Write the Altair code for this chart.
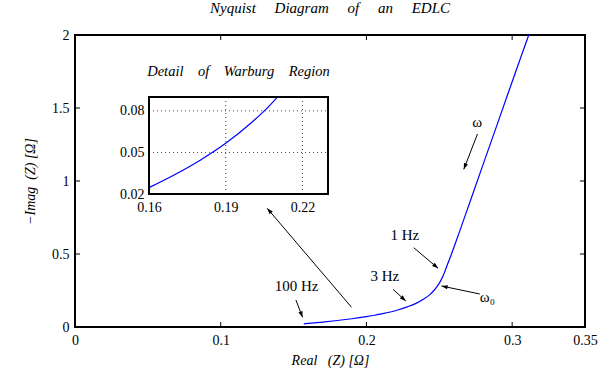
import math
import altair as alt
import pandas as pd

# ---------------- data ----------------
curve_re = [0.157, 0.160, 0.170, 0.180, 0.190, 0.200, 0.2055, 0.2105, 0.2165,
            0.222, 0.228, 0.234, 0.2394, 0.2435, 0.2463, 0.2490, 0.2509, 0.2530, 0.2555,
            0.2580, 0.2600, 0.2642, 0.2720, 0.2802, 0.2880, 0.2959, 0.3040, 0.3114]
curve_im = [0.021, 0.0246, 0.0339, 0.0444, 0.0566, 0.0714, 0.0807, 0.0905, 0.103,
            0.118, 0.138, 0.162, 0.192, 0.222, 0.250, 0.285, 0.316, 0.360, 0.425,
            0.490, 0.545, 0.662, 0.884, 1.117, 1.338, 1.563, 1.793, 2.000]

x_domain = [0, 0.35]
y_domain = [0, 2]
x_ticks = [0, 0.1, 0.2, 0.3, 0.35]
y_ticks = [0, 0.5, 1, 1.5, 2]
inner_x_ticks = [0.1, 0.2, 0.3]
inner_y_ticks = [0.5, 1, 1.5]

inset_x_domain = [0.16, 0.23]
inset_y_domain = [0.02, 0.09]
inset_x_ticks = [0.16, 0.19, 0.22]
inset_y_ticks = [0.02, 0.05, 0.08]
inset_grid_x = [0.19, 0.22]
inset_grid_y = [0.05, 0.08]

ann_text = ["\u03c9", "1 Hz", "3 Hz", "100 Hz", "\u03c9\u2080"]
ann_re = [0.2760, 0.2263, 0.2126, 0.1521, 0.2830]
ann_im = [1.406, 0.630, 0.349, 0.281, 0.205]

arr_re0 = [0.2762, 0.2325, 0.2183, 0.1516, 0.2778, 0.1898]
arr_im0 = [1.322, 0.543, 0.258, 0.185, 0.226, 0.135]
arr_re1 = [0.2668, 0.2492, 0.2270, 0.1562, 0.2515, 0.1319]
arr_im1 = [1.080, 0.402, 0.178, 0.066, 0.281, 0.813]

# ---------------- layout ----------------
W, H = 510, 292
INSET_X_RANGE = [74, 253]
INSET_Y_RANGE = [159, 62]
FONT = "Liberation Serif"
NB = "\u00a0"

xs = alt.Scale(domain=x_domain, nice=False, zero=False)
ys = alt.Scale(domain=y_domain, nice=False, zero=False)
ixs = alt.Scale(domain=inset_x_domain, range=INSET_X_RANGE, nice=False, zero=False)
iys = alt.Scale(domain=inset_y_domain, range=INSET_Y_RANGE, nice=False, zero=False)

AX_X = alt.Axis(values=x_ticks, format="~g", ticks=False, domain=False, grid=False,
                labelFlush=False, labelPadding=6,
                title="Real" + NB * 3 + "(Z)" + NB + "[\u03a9]", titleFontStyle="italic",
                titlePadding=6)
AX_Y = alt.Axis(values=y_ticks, format="~g", ticks=False, domain=False, grid=False,
                labelPadding=6,
                title="\u2212Imag" + NB * 2 + "(Z)" + NB + "[\u03a9]", titleFontStyle="italic",
                titlePadding=14)
AX_IX = alt.Axis(values=inset_x_ticks, format=".2f", orient="bottom", offset=INSET_Y_RANGE[0] - H,
                 ticks=False, domain=False, grid=False, labelFlush=False, labelPadding=6, title=None)
AX_IY = alt.Axis(values=inset_y_ticks, format=".2f", orient="left", offset=-INSET_X_RANGE[0],
                 ticks=False, domain=False, grid=False, labelPadding=5, title=None)

curve = pd.DataFrame({"re": curve_re, "im": curve_im})
ann = pd.DataFrame({"t": ann_text, "re": ann_re, "im": ann_im})

kx = W / (x_domain[1] - x_domain[0])
ky = H / (y_domain[1] - y_domain[0])
angles = []
for a, b, c, d in zip(arr_re0, arr_im0, arr_re1, arr_im1):
    dx = (c - a) * kx
    dy = -(d - b) * ky
    angles.append(math.degrees(math.atan2(dx, -dy)) % 360)
arrows = pd.DataFrame({"x0": arr_re0, "y0": arr_im0, "x1": arr_re1, "y1": arr_im1, "ang": angles})

main_line = alt.Chart(curve).mark_line(color="#0000ff", strokeWidth=1.2, interpolate="monotone").encode(
    x=alt.X("re:Q", scale=xs, axis=AX_X),
    y=alt.Y("im:Q", scale=ys, axis=AX_Y),
    order="re:Q",
)

tb = pd.DataFrame({"t": inner_x_ticks})
ty = pd.DataFrame({"t": inner_y_ticks})
tick_bottom = alt.Chart(tb).mark_rule(color="black", strokeWidth=1).encode(
    x=alt.X("t:Q", scale=xs, axis=AX_X), y=alt.value(H), y2=alt.value(H - 5))
tick_top = alt.Chart(tb).mark_rule(color="black", strokeWidth=1).encode(
    x=alt.X("t:Q", scale=xs, axis=AX_X), y=alt.value(0), y2=alt.value(5))
tick_left = alt.Chart(ty).mark_rule(color="black", strokeWidth=1).encode(
    y=alt.Y("t:Q", scale=ys, axis=AX_Y), x=alt.value(0), x2=alt.value(5))
tick_right = alt.Chart(ty).mark_rule(color="black", strokeWidth=1).encode(
    y=alt.Y("t:Q", scale=ys, axis=AX_Y), x=alt.value(W), x2=alt.value(W - 5))

ann_text_mark = alt.Chart(ann).mark_text(font=FONT, fontSize=15, color="black").encode(
    x=alt.X("re:Q", scale=xs, axis=AX_X), y=alt.Y("im:Q", scale=ys, axis=AX_Y), text="t:N")

arrow_lines = alt.Chart(arrows).mark_rule(color="black", strokeWidth=1).encode(
    x=alt.X("x0:Q", scale=xs, axis=AX_X), y=alt.Y("y0:Q", scale=ys, axis=AX_Y),
    x2="x1:Q", y2="y1:Q")
arrow_heads = alt.Chart(arrows).mark_point(
    shape="M0,0L-0.35,1L0.35,1Z", filled=True, color="black", opacity=1, size=150
).encode(
    x=alt.X("x1:Q", scale=xs, axis=AX_X), y=alt.Y("y1:Q", scale=ys, axis=AX_Y),
    angle=alt.Angle("ang:Q", scale=None))

main_layer = alt.layer(main_line, tick_bottom, tick_top, tick_left, tick_right,
                       arrow_lines, arrow_heads, ann_text_mark)

# ---------------- inset ----------------
frame = pd.DataFrame({"x0": [inset_x_domain[0]], "x1": [inset_x_domain[1]],
                      "y0": [inset_y_domain[0]], "y1": [inset_y_domain[1]]})
inset_bg = alt.Chart(frame).mark_rect(fill="white").encode(
    x=alt.X("x0:Q", scale=ixs, axis=AX_IX), x2="x1:Q",
    y=alt.Y("y0:Q", scale=iys, axis=AX_IY), y2="y1:Q")

gx = pd.DataFrame({"g": inset_grid_x, "lo": inset_y_domain[0], "hi": inset_y_domain[1]})
gy = pd.DataFrame({"g": inset_grid_y, "lo": inset_x_domain[0], "hi": inset_x_domain[1]})
grid_v = alt.Chart(gx).mark_rule(color="#444444", strokeWidth=1, strokeDash=[1, 3]).encode(
    x=alt.X("g:Q", scale=ixs, axis=AX_IX), y=alt.Y("lo:Q", scale=iys, axis=AX_IY), y2="hi:Q")
grid_h = alt.Chart(gy).mark_rule(color="#444444", strokeWidth=1, strokeDash=[1, 3]).encode(
    y=alt.Y("g:Q", scale=iys, axis=AX_IY), x=alt.X("lo:Q", scale=ixs, axis=AX_IX), x2="hi:Q")

inset_line = alt.Chart(curve).transform_filter(
    (alt.datum.re >= inset_x_domain[0]) & (alt.datum.im <= inset_y_domain[1] + 0.001)
).mark_line(color="#0000ff", strokeWidth=1.2, interpolate="monotone").encode(
    x=alt.X("re:Q", scale=ixs, axis=AX_IX), y=alt.Y("im:Q", scale=iys, axis=AX_IY), order="re:Q")

inset_frame = alt.Chart(frame).mark_rect(fill=None, stroke="black", strokeWidth=2).encode(
    x=alt.X("x0:Q", scale=ixs, axis=AX_IX), x2="x1:Q",
    y=alt.Y("y0:Q", scale=iys, axis=AX_IY), y2="y1:Q")

inset_title_df = pd.DataFrame({"t": ["Detail" + NB * 4 + "of" + NB * 4 + "Warburg" + NB * 4 + "Region"],
                               "x": [(inset_x_domain[0] + inset_x_domain[1]) / 2]})
inset_title = alt.Chart(inset_title_df).mark_text(font=FONT, fontSize=14.5, fontStyle="italic",
                                                  color="black").encode(
    x=alt.X("x:Q", scale=ixs, axis=AX_IX), y=alt.value(37), text="t:N")

inset_layer = alt.layer(inset_bg, grid_v, grid_h, inset_line, inset_frame, inset_title)

chart = alt.layer(main_layer, inset_layer).resolve_scale(
    x="independent", y="independent"
).properties(
    width=W, height=H,
    title=alt.TitleParams("Nyquist" + NB * 5 + "Diagram" + NB * 5 + "of" + NB * 5 + "an" + NB * 5 + "EDLC",
                          font=FONT, fontSize=15, fontStyle="italic", fontWeight="normal",
                          color="black", offset=12, anchor="middle"),
    padding={"left": 75, "top": 35, "right": 31, "bottom": 49},
    autosize=alt.AutoSizeParams(type="none"),
).configure_view(
    stroke="black", strokeWidth=2
).configure_axis(
    labelFont=FONT, labelFontSize=14, labelColor="black",
    titleFont=FONT, titleFontSize=14, titleColor="black", titleFontWeight="normal"
)

chart.save("out.html", embed_options={"renderer": "svg", "actions": False})
